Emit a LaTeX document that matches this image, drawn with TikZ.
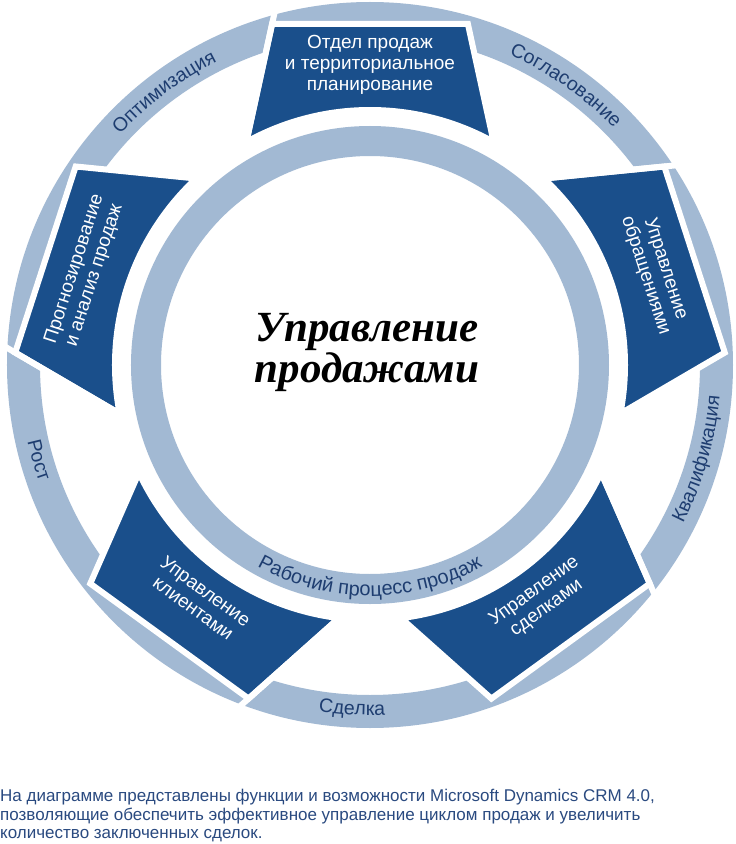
\documentclass[tikz,border=0pt]{standalone}
\usepackage{fontspec}
\setmainfont{Liberation Sans}
\newfontfamily\titlefont{Liberation Serif}
\usetikzlibrary{calc,decorations.text}
\definecolor{darkseg}{HTML}{1A4F8B}
\definecolor{lightring}{HTML}{A2B9D3}
\definecolor{ringtext}{HTML}{1E3D70}
\definecolor{captext}{HTML}{2A4A80}
\newcommand\mkseg[1]{%
  \begin{scope}[rotate=#1]
    \filldraw[segfill] (119:255pt) -- (106:355pt) -- (74:355pt) -- (61:255pt)
      arc[start angle=61, end angle=119, radius=255pt] -- cycle;
    \draw[gapline] (119:255pt) -- ($(119:255pt)!1.3!(106:355pt)$);
  \end{scope}}
\newcommand\ringlabel[5]{%
  \path[decorate, decoration={text along path, text align=center,
    text={|\fontsize{#5}{#5}\selectfont\color{ringtext}|#4}}]
    (#2:#1) arc[start angle=#2, end angle=#3, radius=#1];}
\begin{document}
\begin{tikzpicture}[x=1pt,y=1pt,
  segfill/.style={fill=darkseg, draw=white, line width=6pt, line join=miter},
  gapline/.style={draw=white, line width=6pt},
  segtext/.style={text=white, align=center, font=\fontsize{19}{21}\selectfont},
  captionline/.style={anchor=base west, inner sep=0pt, text=captext, font=\fontsize{17}{19}\selectfont}]
\useasboundingbox[fill=white] (-370,-479) rectangle (366,365);
% rings
\fill[lightring, even odd rule] (0,0) circle[radius=363pt] (0,0) circle[radius=330pt];
\fill[lightring, even odd rule] (0,0) circle[radius=239pt] (0,0) circle[radius=209pt];
% dark segments
\mkseg{0}
\mkseg{-72}
\mkseg{-144}
\mkseg{-216}
\mkseg{72}
% segment texts
\node[segtext] (sales) at (90:300pt) {Отдел продаж\\и территориальное\\планирование};
\node[segtext, rotate=-72] (requests) at (18:300pt) {Управление\\обращениями};
\node[segtext, rotate=36] (deals) at (-54:290pt) {Управление\\сделками};
\node[segtext, rotate=-36] (clients) at (-126:290pt) {Управление\\клиентами};
\node[segtext, rotate=72] (forecast) at (162:300pt) {Прогнозирование\\и анализ продаж};
% ring labels
\ringlabel{340pt}{157}{97}{Оптимизация}{19.5}
\ringlabel{340pt}{85}{25}{Согласование}{19.5}
\ringlabel{351pt}{-46}{14}{Квалификация}{19.5}
\ringlabel{350pt}{-123}{-63}{Сделка}{19.5}
\ringlabel{351pt}{166}{226}{Рост}{19.5}
\ringlabel{231pt}{-135}{-45}{Рабочий процесс продаж}{20}
% title
\node[align=center, font=\titlefont\bfseries\itshape\fontsize{43}{41}\selectfont] (title) at (-3,13) {Управление\\продажами};
% caption
\node[captionline] (cap1) at (-370,-436) {На диаграмме представлены функции и возможности Microsoft Dynamics CRM 4.0,};
\node[captionline] (cap2) at (-370,-455) {позволяющие обеспечить эффективное управление циклом продаж и увеличить};
\node[captionline] (cap3) at (-370,-473) {количество заключенных сделок.};
\end{tikzpicture}
\end{document}
